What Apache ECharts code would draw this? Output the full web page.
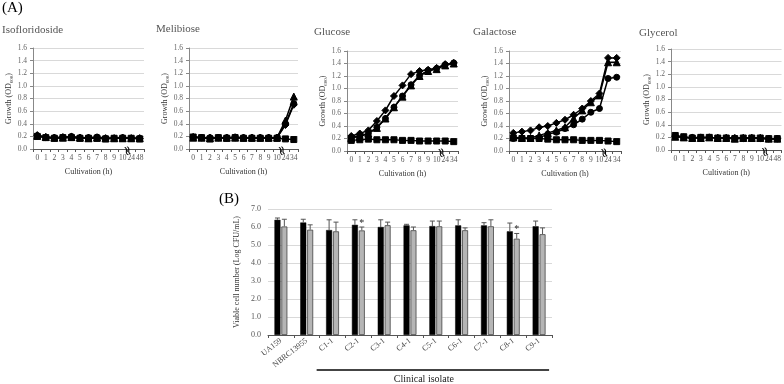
<!DOCTYPE html>
<html>
<head>
<meta charset="utf-8">
<script src="https://cdn.jsdelivr.net/npm/echarts@6/dist/echarts.min.js"></script>
<style>
  html, body { margin: 0; padding: 0; background: #fff; }
  #main { width: 784px; height: 384px; }
</style>
</head>
<body>
<div id="main"></div>
<script>
// time points (h)
const hours48 = ['0', '1', '2', '3', '4', '5', '6', '7', '8', '9', '10', '24', '48'];
const hours34 = ['0', '1', '2', '3', '4', '5', '6', '7', '8', '9', '10', '24', '34'];

// growth (OD600), four strains per sugar: diamond / triangle / circle / square
const isoDia = [0.22, 0.19, 0.18, 0.19, 0.19, 0.18, 0.18, 0.18, 0.17, 0.17, 0.18, 0.17, 0.17];
const isoTri = [0.21, 0.19, 0.18, 0.18, 0.19, 0.18, 0.17, 0.18, 0.17, 0.17, 0.17, 0.17, 0.17];
const isoCir = [0.21, 0.18, 0.18, 0.18, 0.20, 0.18, 0.18, 0.19, 0.17, 0.17, 0.18, 0.17, 0.17];
const isoSq  = [0.20, 0.18, 0.17, 0.18, 0.18, 0.17, 0.17, 0.17, 0.16, 0.17, 0.17, 0.17, 0.16];

const melDia = [0.19, 0.18, 0.18, 0.18, 0.18, 0.18, 0.18, 0.18, 0.18, 0.18, 0.18, 0.38, 0.70];
const melTri = [0.18, 0.18, 0.17, 0.18, 0.18, 0.18, 0.18, 0.18, 0.18, 0.18, 0.18, 0.45, 0.83];
const melCir = [0.19, 0.18, 0.18, 0.18, 0.18, 0.19, 0.18, 0.18, 0.18, 0.18, 0.18, 0.40, 0.72];
const melSq  = [0.19, 0.18, 0.16, 0.18, 0.17, 0.18, 0.17, 0.17, 0.17, 0.17, 0.17, 0.16, 0.15];

const gluDia = [0.24, 0.28, 0.33, 0.48, 0.65, 0.88, 1.05, 1.23, 1.28, 1.30, 1.33, 1.39, 1.41];
const gluTri = [0.21, 0.23, 0.28, 0.37, 0.52, 0.70, 0.87, 1.05, 1.20, 1.28, 1.31, 1.37, 1.40];
const gluCir = [0.22, 0.24, 0.28, 0.38, 0.52, 0.70, 0.88, 1.06, 1.21, 1.29, 1.32, 1.38, 1.41];
const gluSq  = [0.17, 0.18, 0.19, 0.18, 0.18, 0.18, 0.17, 0.17, 0.16, 0.16, 0.16, 0.16, 0.15];

const galDia = [0.29, 0.31, 0.33, 0.38, 0.40, 0.45, 0.50, 0.58, 0.68, 0.80, 0.92, 1.49, 1.49];
const galTri = [0.22, 0.21, 0.21, 0.25, 0.29, 0.33, 0.38, 0.52, 0.65, 0.78, 0.89, 1.42, 1.42];
const galCir = [0.20, 0.20, 0.20, 0.21, 0.27, 0.30, 0.36, 0.42, 0.51, 0.62, 0.68, 1.16, 1.18];
const galSq  = [0.21, 0.20, 0.20, 0.20, 0.19, 0.18, 0.18, 0.18, 0.17, 0.17, 0.17, 0.16, 0.15];

const glyDia = [0.22, 0.20, 0.19, 0.20, 0.20, 0.19, 0.19, 0.19, 0.19, 0.19, 0.19, 0.18, 0.18];
const glyTri = [0.21, 0.20, 0.19, 0.19, 0.20, 0.19, 0.19, 0.18, 0.19, 0.19, 0.19, 0.18, 0.18];
const glyCir = [0.22, 0.20, 0.20, 0.20, 0.20, 0.19, 0.19, 0.19, 0.18, 0.19, 0.18, 0.18, 0.18];
const glySq  = [0.23, 0.21, 0.19, 0.20, 0.20, 0.19, 0.19, 0.18, 0.19, 0.19, 0.19, 0.18, 0.18];

// panel B: viable cell number (log CFU/mL)
const strains = ['UA159', 'NBRC13955', 'C1-1', 'C2-1', 'C3-1', 'C4-1', 'C5-1', 'C6-1', 'C7-1', 'C8-1', 'C9-1'];
const blackVals = [6.40, 6.25, 5.83, 6.12, 6.00, 6.09, 6.05, 6.09, 6.09, 5.76, 6.04];
const blackErr  = [0.10, 0.18, 0.57, 0.28, 0.40, 0.06, 0.28, 0.31, 0.15, 0.46, 0.29];
const grayVals  = [6.03, 5.85, 5.76, 5.81, 6.10, 5.82, 6.04, 5.82, 6.04, 5.35, 5.60];
const grayErr   = [0.40, 0.27, 0.51, 0.19, 0.17, 0.18, 0.29, 0.13, 0.36, 0.29, 0.35];
const grayStar  = [0, 0, 0, 1, 0, 0, 0, 0, 0, 1, 0];

const FONT = '"Liberation Serif", "DejaVu Serif", serif';

const panels = [
  { title: 'Isofloridoside', cats: hours48, lines: [isoDia, isoTri, isoCir, isoSq] },
  { title: 'Melibiose', cats: hours34, lines: [melDia, melTri, melCir, melSq] },
  { title: 'Glucose', cats: hours34, lines: [gluDia, gluTri, gluCir, gluSq] },
  { title: 'Galactose', cats: hours34, lines: [galDia, galTri, galCir, galSq] },
  { title: 'Glycerol', cats: hours48, lines: [glyDia, glyTri, glyCir, glySq] },
];
const symbols = ['diamond', 'triangle', 'circle', 'rect'];
const symSizes = [7, 7, 6, 6];

// grid boxes
const boxes = [
  { left: 33, top: 48, width: 111, height: 101 },
  { left: 189, top: 48, width: 109, height: 101 },
  { left: 347, top: 51, width: 111, height: 100 },
  { left: 509, top: 51, width: 112, height: 100 },
  { left: 671, top: 49, width: 111, height: 101 },
  { left: 268, top: 209, width: 284, height: 126 },
];
const titlePos = [[2, 30], [156, 29], [314, 32], [473, 32], [639, 33]];

let chart = echarts.init(document.getElementById('main'));

let grid = boxes.map((b) => Object.assign({ containLabel: false }, b));
let xAxis = [];
let yAxis = [];
let series = [];

panels.forEach((p, i) => {
  xAxis.push({
    type: 'category',
    gridIndex: i,
    data: p.cats,
    boundaryGap: true,
    name: 'Cultivation (h)',
    nameLocation: 'middle',
    nameGap: 19,
    nameTextStyle: { fontFamily: FONT, fontSize: 8, color: '#333' },
    axisLine: { lineStyle: { color: '#555', width: 1 } },
    axisTick: { show: true, interval: 0, length: 3, lineStyle: { color: '#555' } },
    axisLabel: { interval: 0, fontFamily: FONT, fontSize: 7.5, color: '#555', margin: 5 },
    splitLine: { show: false },
  });
  yAxis.push({
    type: 'value',
    gridIndex: i,
    min: 0,
    max: 1.6,
    interval: 0.2,
    name: 'Growth (OD{sub|600})',
    nameLocation: 'middle',
    nameGap: 18,
    nameTextStyle: {
      fontFamily: FONT, fontSize: 8, color: '#333',
      rich: { sub: { fontFamily: FONT, fontSize: 5, color: '#333', verticalAlign: 'bottom', padding: [4, 0, 0, 0] } },
    },
    axisLine: { show: true, lineStyle: { color: '#888' } },
    axisTick: { show: true, length: 3, lineStyle: { color: '#888' } },
    axisLabel: { fontFamily: FONT, fontSize: 7.5, color: '#666', margin: 6, formatter: (v) => v.toFixed(1) },
    splitLine: { lineStyle: { color: '#d9d9d9', width: 1 } },
  });
  p.lines.forEach((vals, k) => {
    series.push({
      type: 'line',
      xAxisIndex: i,
      yAxisIndex: i,
      data: vals,
      symbol: symbols[k],
      symbolSize: symSizes[k],
      showSymbol: true,
      lineStyle: { color: '#000', width: 1.5 },
      itemStyle: { color: '#000', borderColor: '#000' },
      animation: false,
    });
  });
});

// panel B axes
xAxis.push({
  type: 'category',
  gridIndex: 5,
  data: strains,
  axisLine: { lineStyle: { color: '#555' } },
  axisTick: { show: true, interval: 0, length: 3, lineStyle: { color: '#555' } },
  axisLabel: { interval: 0, rotate: 38, fontFamily: FONT, fontSize: 8, color: '#444', margin: 5 },
});
yAxis.push({
  type: 'value',
  gridIndex: 5,
  min: 0,
  max: 7,
  interval: 1,
  name: 'Viable cell number (Log CFU/mL)',
  nameLocation: 'middle',
  nameGap: 27,
  nameTextStyle: { fontFamily: FONT, fontSize: 8, color: '#333' },
  axisLine: { show: false },
  axisTick: { show: false },
  axisLabel: { fontFamily: FONT, fontSize: 8, color: '#555', margin: 7, formatter: (v) => v.toFixed(1) },
  splitLine: { lineStyle: { color: '#d9d9d9' } },
});

const BAR_W = 6;
series.push({
  type: 'bar', xAxisIndex: 5, yAxisIndex: 5, data: blackVals,
  barWidth: BAR_W, barGap: '15%',
  itemStyle: { color: '#000', borderColor: '#000', borderWidth: 0.5 },
  animation: false,
});
series.push({
  type: 'bar', xAxisIndex: 5, yAxisIndex: 5, data: grayVals,
  barWidth: BAR_W, barGap: '15%',
  itemStyle: { color: '#b5b5b5', borderColor: '#444', borderWidth: 0.8 },
  animation: false,
});

function errSeries(vals, errs, stars, offset, color) {
  return {
    type: 'custom',
    xAxisIndex: 5,
    yAxisIndex: 5,
    data: vals.map((v, i) => [i, v, errs[i], stars ? stars[i] : 0]),
    renderItem: (params, api) => {
      let base = api.coord([api.value(0), api.value(1)]);
      let top = api.coord([api.value(0), api.value(1) + api.value(2)]);
      let x = base[0] + offset;
      let kids = [
        { type: 'line', shape: { x1: x, y1: base[1], x2: x, y2: top[1] }, style: { stroke: color, lineWidth: 1 } },
        { type: 'line', shape: { x1: x - 2.5, y1: top[1], x2: x + 2.5, y2: top[1] }, style: { stroke: color, lineWidth: 1 } },
      ];
      if (api.value(3)) {
        kids.push({ type: 'text', style: { text: '*', x: x, y: top[1] - 4, fontFamily: FONT, fontSize: 10, fill: '#222', align: 'center', verticalAlign: 'middle' } });
      }
      return { type: 'group', children: kids };
    },
    z: 5,
    animation: false,
  };
}
series.push(errSeries(blackVals, blackErr, null, -3.45, '#555'));
series.push(errSeries(grayVals, grayErr, grayStar, 3.45, '#555'));

chart.setOption({
  backgroundColor: '#fff',
  animation: false,
  grid: grid,
  xAxis: xAxis,
  yAxis: yAxis,
  series: series,
});

// text and decorations
let graphics = [
  { type: 'text', x: 2, y: 8, style: { text: '(A)', fontFamily: FONT, fontSize: 15, fill: '#000', verticalAlign: 'middle' } },
  { type: 'text', x: 219, y: 199, style: { text: '(B)', fontFamily: FONT, fontSize: 15, fill: '#000', verticalAlign: 'middle' } },
];
panels.forEach((p, i) => {
  graphics.push({ type: 'text', x: titlePos[i][0], y: titlePos[i][1], style: { text: p.title, fontFamily: FONT, fontSize: 11, fill: '#555', verticalAlign: 'middle' } });
  // axis break mark between 10 and 24/34
  let a = chart.convertToPixel({ xAxisIndex: i }, 10);
  let b = chart.convertToPixel({ xAxisIndex: i }, 11);
  let y0 = chart.convertToPixel({ yAxisIndex: i }, 0);
  graphics.push({
    type: 'text', x: (a + b) / 2, y: y0 + 2, rotation: -Math.PI / 2.4,
    style: { text: '≈', fontFamily: 'DejaVu Sans', fontSize: 13, fill: '#000', align: 'center', verticalAlign: 'middle' },
    z: 100,
  });
});

// clinical isolate bracket line
let xl = (chart.convertToPixel({ xAxisIndex: 5 }, 1) + chart.convertToPixel({ xAxisIndex: 5 }, 2)) / 2;
let xr = chart.convertToPixel({ xAxisIndex: 5 }, 10) + 13;
graphics.push({ type: 'line', shape: { x1: xl - 3, y1: 370, x2: xr - 3, y2: 370 }, style: { stroke: '#444', lineWidth: 2 } });
graphics.push({ type: 'text', x: (xl + xr) / 2 - 12, y: 379, style: { text: 'Clinical isolate', fontFamily: FONT, fontSize: 10, fill: '#222', align: 'center', verticalAlign: 'middle' } });

chart.setOption({ graphic: graphics });
</script>
</body>
</html>
